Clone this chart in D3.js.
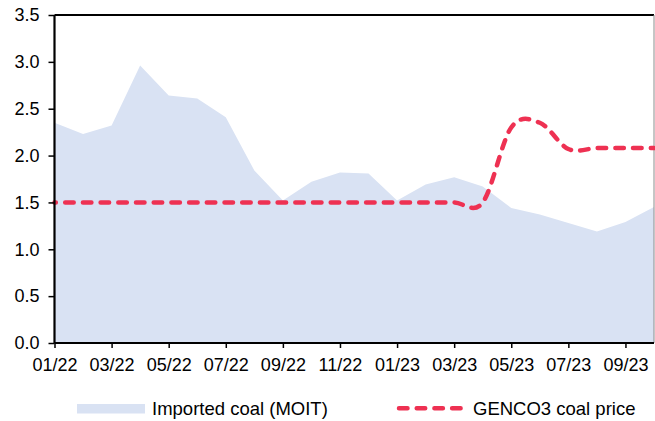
<!DOCTYPE html>
<html lang="en">
<meta charset="utf-8">
<style>
body { margin: 0; background: #fff; }
text { font-family: "Liberation Sans", Arial, sans-serif; fill: #000; }
</style>
<body>
<script src="https://d3js.org/d3.v7.min.js"></script>
<div id="chart"></div>
<script>
// monthly data, 01/22 .. 10/23
var months = ["01/22","02/22","03/22","04/22","05/22","06/22","07/22","08/22","09/22","10/22","11/22","12/22",
              "01/23","02/23","03/23","04/23","05/23","06/23","07/23","08/23","09/23","10/23"];
var importedCoal = [2.35, 2.23, 2.32, 2.96, 2.64, 2.61, 2.41, 1.84, 1.52, 1.72, 1.82, 1.81,
                    1.52, 1.69, 1.77, 1.67, 1.44, 1.37, 1.28, 1.19, 1.29, 1.45];
var genco3 = [1.5, 1.5, 1.5, 1.5, 1.5, 1.5, 1.5, 1.5, 1.5, 1.5, 1.5, 1.5,
              1.5, 1.5, 1.5, 1.5, 2.3, 2.35, 2.07, 2.08, 2.08, 2.08];
var yTicks = [0, 0.5, 1, 1.5, 2, 2.5, 3, 3.5];
var seriesNames = ["Imported coal (MOIT)", "GENCO3 coal price"];

var width = 655, height = 421;
var plotL = 54.5, plotR = 654, plotT = 15, plotB = 343;
var areaColor = "#d9e2f3", lineColor = "#ee3152";

var svg = d3.select("#chart").append("svg")
    .attr("width", width)
    .attr("height", height);

var x = d3.scalePoint().domain(months).range([plotL, plotR]);
var y = d3.scaleLinear().domain([0, 3.5]).range([plotB, plotT]);

var data = months.map(function(m, i) { return {m: m, a: importedCoal[i], g: genco3[i]}; });

svg.append("path")
    .datum(data)
    .attr("fill", areaColor)
    .attr("d", d3.area()
      .x(function(d) { return x(d.m); })
      .y0(y(0))
      .y1(function(d) { return y(d.a); }));

// frame: top black, right grey
svg.append("line").attr("x1", plotL).attr("x2", plotR).attr("y1", plotT).attr("y2", plotT)
    .attr("stroke", "#000").attr("stroke-width", 2);
svg.append("line").attr("x1", plotR).attr("x2", plotR).attr("y1", plotT).attr("y2", plotB)
    .attr("stroke", "#8c8c8c").attr("stroke-width", 1);

svg.append("path")
    .datum(data)
    .attr("fill", "none")
    .attr("stroke", lineColor)
    .attr("stroke-width", 4.5)
    .attr("stroke-linecap", "round")
    .attr("stroke-dasharray", "8.5 9.2")
    .attr("stroke-dashoffset", 7)
    .attr("d", d3.line()
      .curve(d3.curveCardinal.tension(0))
      .x(function(d) { return x(d.m); })
      .y(function(d) { return y(d.g); }));

var yAxis = svg.append("g")
    .attr("transform", "translate(" + plotL + ",0)")
    .call(d3.axisLeft(y).tickValues(yTicks).tickFormat(d3.format(".1f")).tickSize(6).tickPadding(9));

var xAxis = svg.append("g")
    .attr("transform", "translate(0," + plotB + ")")
    .call(d3.axisBottom(x)
      .tickValues(months.filter(function(m, i) { return i % 2 === 0; }))
      .tickSize(5).tickPadding(10));

[yAxis, xAxis].forEach(function(g) {
  g.select(".domain").attr("stroke", "#000").attr("stroke-width", 2.2);
  g.selectAll(".tick line").attr("stroke", "#000").attr("stroke-width", 1.5);
  g.selectAll("text").attr("font-size", "18px").attr("font-family", "Liberation Sans, Arial, sans-serif");
});
xAxis.select(".domain").attr("d", "M" + plotL + ",0H" + plotR);
yAxis.select(".domain").attr("d", "M0," + plotB + "V" + plotT);

// legend
var legend = svg.append("g").attr("font-size", "18.5px");
legend.append("rect")
    .attr("x", 77).attr("y", 404).attr("width", 68).attr("height", 9.5)
    .attr("fill", areaColor);
legend.append("text").attr("x", 152).attr("y", 415).text(seriesNames[0]);
legend.append("line")
    .attr("x1", 399).attr("x2", 463).attr("y1", 408.3).attr("y2", 408.3)
    .attr("stroke", lineColor).attr("stroke-width", 4.5)
    .attr("stroke-linecap", "round").attr("stroke-dasharray", "8.5 9.2");
legend.append("text").attr("x", 473).attr("y", 415).text(seriesNames[1]);
</script>
</body>
</html>
